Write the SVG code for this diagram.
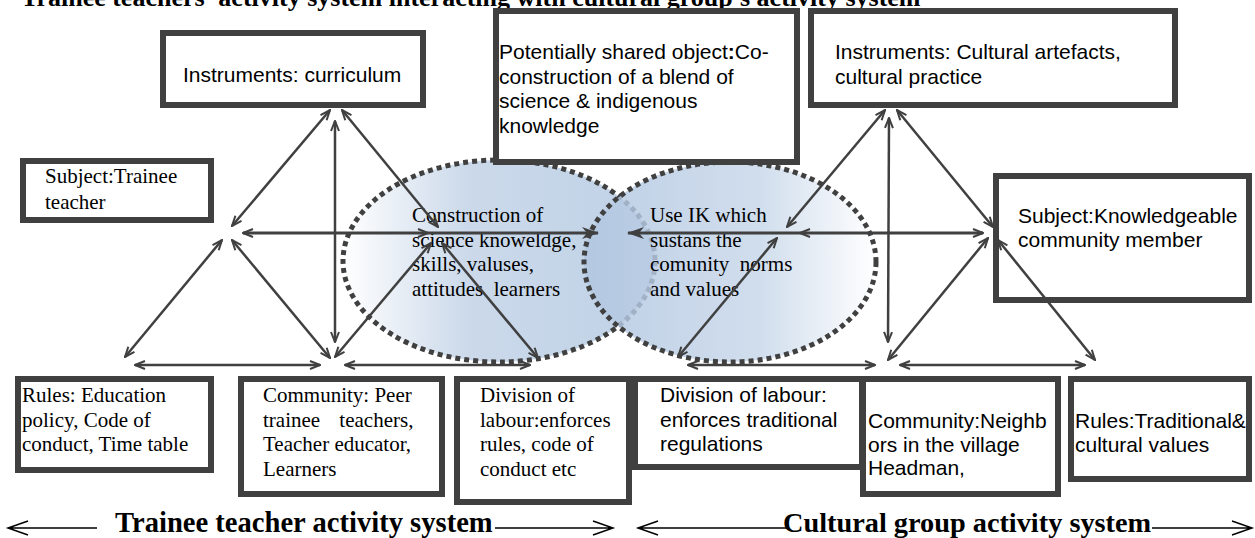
<svg xmlns="http://www.w3.org/2000/svg" width="1255" height="538" viewBox="0 0 1255 538">
  <defs>
    <style>
      .box { fill: #ffffff; stroke: #404040; stroke-width: 6; }
      .sans { font-family: "Liberation Sans", Arial, sans-serif; font-size: 21px; fill: #000; }
      .serif { font-family: "Liberation Serif", "Times New Roman", serif; font-size: 21px; fill: #000; }
      .title { font-family: "Liberation Serif", "Times New Roman", serif; font-weight: bold; fill: #000; }
      .cn { fill: none; stroke: #404040; stroke-width: 2.5; marker-start: url(#arr); marker-end: url(#arr); }
      .axis { fill: none; stroke: #404040; stroke-width: 3; marker-start: url(#arr); marker-mid: url(#arr); marker-end: url(#big); }
      .sys { fill: none; stroke: #000; stroke-width: 1.5; }
      .dots { stroke: #404040; stroke-width: 5; stroke-dasharray: 5 4; }
    </style>
    <marker id="arr" viewBox="0 0 12 10" refX="11" refY="5" markerWidth="12" markerHeight="10" markerUnits="userSpaceOnUse" orient="auto-start-reverse">
      <path d="M1,1 L11,5 L1,9" fill="none" stroke="#404040" stroke-width="2"/>
    </marker>
    <marker id="big" viewBox="0 0 17 12" refX="16" refY="6" markerWidth="17" markerHeight="12" markerUnits="userSpaceOnUse" orient="auto">
      <path d="M0,0 L17,6 L0,12 L5,6 z" fill="#404040"/>
    </marker>
    <linearGradient id="gL" x1="0" y1="0" x2="1" y2="0">
      <stop offset="0" stop-color="#ffffff"/>
      <stop offset="0.4" stop-color="#cbd9ea"/>
      <stop offset="1" stop-color="#c0d2e7"/>
    </linearGradient>
    <linearGradient id="gR" x1="0" y1="0" x2="1" y2="0">
      <stop offset="0" stop-color="#b0c5e0"/>
      <stop offset="0.6" stop-color="#c6d6e9"/>
      <stop offset="1" stop-color="#ffffff"/>
    </linearGradient>
  </defs>

  <rect width="1255" height="538" fill="#ffffff"/>

  <!-- heading, clipped by the top edge -->
  <text class="title" x="21" y="6" font-size="26">Trainee teachers' activity system interacting with cultural group's activity system</text>

  <!-- the two overlapping object ellipses -->
  <g id="object-left">
    <ellipse cx="499" cy="261" rx="156" ry="101" fill="url(#gL)" class="dots"/>
    <text class="serif" x="412" y="222">Construction of</text>
    <text class="serif" x="412" y="246.5">science knoweldge,</text>
    <text class="serif" x="412" y="271">skills, valuses,</text>
    <text class="serif" x="412" y="295.5" xml:space="preserve">attitudes  learners</text>
  </g>
  <g id="object-right">
    <ellipse cx="730" cy="262" rx="146" ry="100" fill="url(#gR)" fill-opacity="0.82" class="dots"/>
    <text class="serif" x="650" y="222">Use IK which</text>
    <text class="serif" x="650" y="246.5">sustans the</text>
    <text class="serif" x="650" y="271" xml:space="preserve">comunity  norms</text>
    <text class="serif" x="650" y="295.5">and values</text>
  </g>

  <!-- trainee teacher activity system -->
  <g id="instruments-left">
    <rect class="box" x="163" y="33" width="260" height="72"/>
    <text class="sans" x="183" y="82">Instruments: curriculum</text>
  </g>
  <g id="subject-left">
    <rect class="box" x="23" y="161" width="188" height="59"/>
    <text class="serif" x="45" y="183">Subject:Trainee</text>
    <text class="serif" x="45" y="209">teacher</text>
  </g>
  <g id="rules-left">
    <rect class="box" x="18" y="379" width="193" height="91"/>
    <text class="serif" x="22" y="402">Rules: Education</text>
    <text class="serif" x="22" y="427">policy, Code of</text>
    <text class="serif" x="22" y="451">conduct, Time table</text>
  </g>
  <g id="community-left">
    <rect class="box" x="241" y="379" width="201" height="115"/>
    <text class="serif" x="263" y="402">Community: Peer</text>
    <text class="serif" x="263" y="427" word-spacing="14">trainee teachers,</text>
    <text class="serif" x="263" y="451">Teacher educator,</text>
    <text class="serif" x="263" y="476">Learners</text>
  </g>
  <g id="division-left">
    <rect class="box" x="457" y="379" width="172" height="123"/>
    <text class="serif" x="480" y="402">Division of</text>
    <text class="serif" x="480" y="427">labour:enforces</text>
    <text class="serif" x="480" y="451">rules, code of</text>
    <text class="serif" x="480" y="476">conduct etc</text>
  </g>

  <!-- shared object -->
  <g id="shared-object">
    <rect class="box" x="496" y="11" width="301" height="151"/>
    <text class="sans" x="499" y="59">Potentially shared object<tspan font-weight="bold">:</tspan>Co-</text>
    <text class="sans" x="499" y="83.5">construction of a blend of</text>
    <text class="sans" x="499" y="108">science &amp; indigenous</text>
    <text class="sans" x="499" y="132.5">knowledge</text>
  </g>

  <!-- cultural group activity system -->
  <g id="instruments-right">
    <rect class="box" x="811" y="11" width="364" height="94"/>
    <text class="sans" x="835" y="59">Instruments: Cultural artefacts,</text>
    <text class="sans" x="835" y="84">cultural practice</text>
  </g>
  <g id="subject-right">
    <rect class="box" x="996" y="176" width="253" height="124"/>
    <text class="sans" x="1018" y="223">Subject:Knowledgeable</text>
    <text class="sans" x="1018" y="247">community member</text>
  </g>
  <g id="division-right">
    <rect class="box" x="635" y="379" width="227" height="88"/>
    <text class="sans" x="660" y="402">Division of labour:</text>
    <text class="sans" x="660" y="427">enforces traditional</text>
    <text class="sans" x="660" y="451">regulations</text>
  </g>
  <g id="community-right">
    <rect class="box" x="863" y="379" width="195" height="115"/>
    <text class="sans" x="868" y="428">Community:Neighb</text>
    <text class="sans" x="868" y="452">ors in the village</text>
    <text class="sans" x="868" y="475">Headman,</text>
  </g>
  <g id="rules-right">
    <rect class="box" x="1071" y="379" width="178" height="100"/>
    <text class="sans" x="1075" y="428">Rules:Traditional&amp;</text>
    <text class="sans" x="1075" y="452">cultural values</text>
  </g>

  <!-- connectors of both triangles -->
  <g id="connectors">
    <!-- left triangle -->
    <line class="cn" x1="232" y1="226" x2="330" y2="110"/>
    <line class="cn" x1="335" y1="121" x2="335" y2="342"/>
    <line class="cn" x1="342" y1="110" x2="438" y2="227"/>
    <polyline class="axis" points="243,233 428,233 598,233"/>
    <line class="cn" x1="222" y1="240" x2="125" y2="357"/>
    <line class="cn" x1="232" y1="240" x2="330" y2="358"/>
    <line class="cn" x1="135" y1="365" x2="320" y2="365"/>
    <line class="cn" x1="345" y1="365" x2="530" y2="365"/>
    <line class="cn" x1="431" y1="243" x2="335" y2="357"/>
    <line class="cn" x1="442" y1="243" x2="538" y2="358"/>
    <!-- right triangle -->
    <line class="cn" x1="885" y1="110" x2="787" y2="227"/>
    <line class="cn" x1="889" y1="118" x2="888" y2="342"/>
    <line class="cn" x1="897" y1="110" x2="993" y2="227"/>
    <polyline class="axis" points="983,233 800,233 628,233"/>
    <line class="cn" x1="777" y1="238" x2="678" y2="357"/>
    <line class="cn" x1="988" y1="238" x2="888" y2="360"/>
    <line class="cn" x1="998" y1="240" x2="1095" y2="360"/>
    <line class="cn" x1="688" y1="365" x2="875" y2="365"/>
    <line class="cn" x1="900" y1="365" x2="1085" y2="365"/>
  </g>

  <!-- system labels along the bottom -->
  <g id="label-trainee-system">
    <path class="sys" d="M8,528 H97 M28,521 L8,528 L28,535"/>
    <text class="title" x="115" y="532" font-size="28.6">Trainee teacher activity system</text>
    <path class="sys" d="M495,528 H613 M593,521 L613,528 L593,535"/>
  </g>
  <g id="label-cultural-system">
    <path class="sys" d="M638,528 H787 M658,521 L638,528 L658,535"/>
    <text class="title" x="783" y="532" font-size="28.3">Cultural group activity system</text>
    <path class="sys" d="M1152,528 H1252 M1232,521 L1252,528 L1232,535"/>
  </g>
</svg>
